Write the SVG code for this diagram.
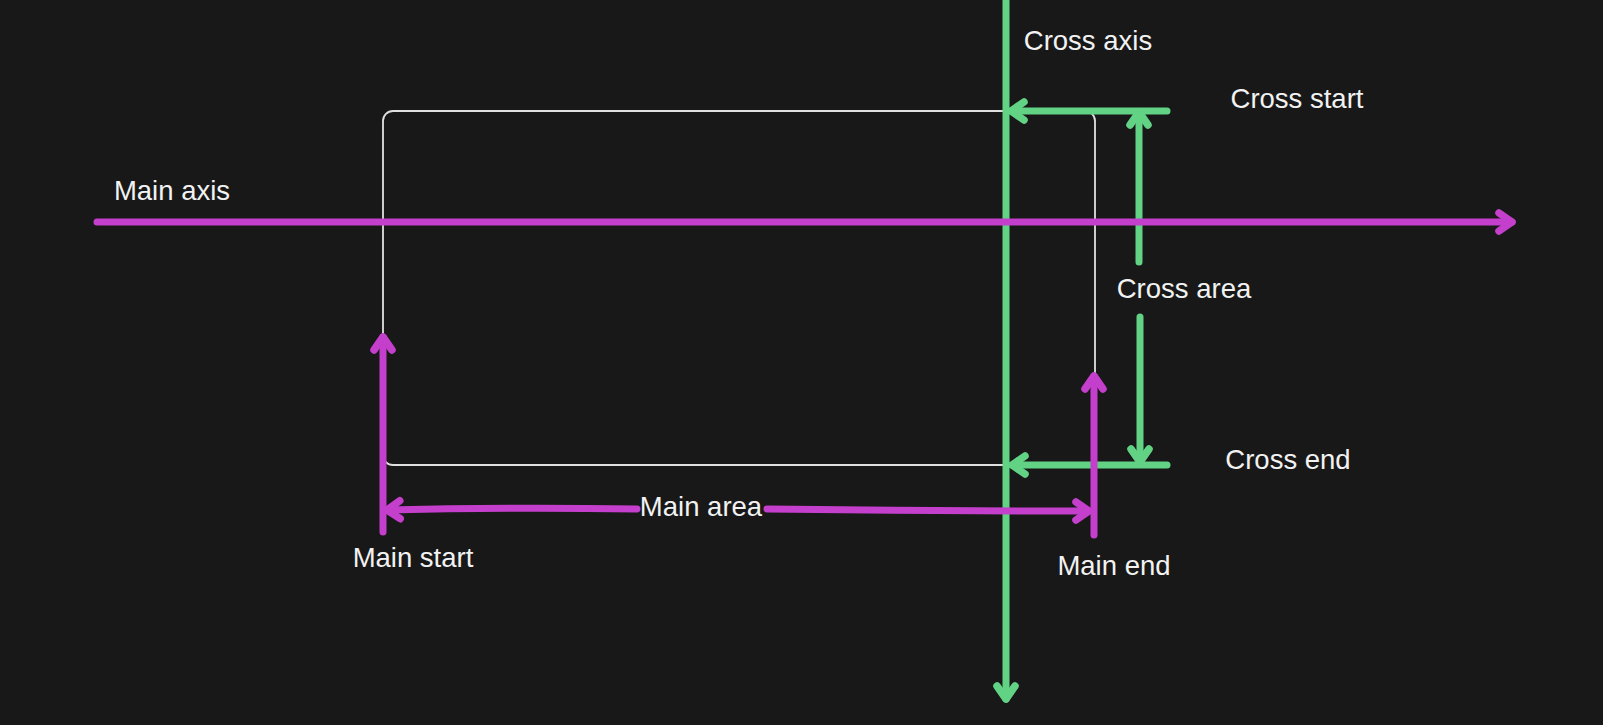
<svg xmlns="http://www.w3.org/2000/svg" width="1603" height="725" viewBox="0 0 1603 725">
<style>
.bg{fill:#181818}
.box{fill:none;stroke:#e0e0e0;stroke-width:1.8}
.p{fill:none;stroke:#c43fcc;stroke-width:7;stroke-linecap:round;stroke-linejoin:round}
.g{fill:none;stroke:#62d384;stroke-width:7;stroke-linecap:round;stroke-linejoin:round}
.t{font-family:"Liberation Sans",Arial,sans-serif;font-size:27.5px;fill:#f2f2f2;text-anchor:middle}
</style>
<defs>
<marker id="ahp" markerUnits="userSpaceOnUse" orient="auto" overflow="visible" markerWidth="1" markerHeight="1" refX="0" refY="0">
<path d="M-13,-9 L0,0 L-13,9" fill="none" stroke="#c43fcc" stroke-width="7.5" stroke-linecap="round" stroke-linejoin="round"/>
</marker>
<marker id="ahg" markerUnits="userSpaceOnUse" orient="auto" overflow="visible" markerWidth="1" markerHeight="1" refX="0" refY="0">
<path d="M-13,-9 L0,0 L-13,9" fill="none" stroke="#62d384" stroke-width="7.5" stroke-linecap="round" stroke-linejoin="round"/>
</marker>
</defs>
<rect class="bg" x="0" y="0" width="1603" height="725"/>
<g id="container">
<rect class="box" x="383" y="111" width="712" height="354" rx="10"/>
</g>
<g id="connectors">
<path class="g" d="M1006,-5 L1006,699" marker-end="url(#ahg)"/>
<path class="g" d="M1167,111 L1011,111" marker-end="url(#ahg)"/>
<path class="g" d="M1167,465 L1012,465" marker-end="url(#ahg)"/>
<path class="g" d="M1139,262 L1139,112" marker-end="url(#ahg)"/>
<path class="g" d="M1140,317 L1140,462" marker-end="url(#ahg)"/>
<path class="p" d="M97,222 L1512,222" marker-end="url(#ahp)"/>
<path class="p" d="M383,532 L383,337" marker-end="url(#ahp)"/>
<path class="p" d="M1094,535 L1094,376" marker-end="url(#ahp)"/>
<path class="p" d="M637,509 Q510,507 387,510" marker-end="url(#ahp)"/>
<path class="p" d="M767,509 Q930,511 1089,511" marker-end="url(#ahp)"/>
</g>
<g id="label-cross-axis"><text class="t" x="1088" y="50">Cross axis</text></g>
<g id="label-cross-start"><text class="t" x="1297" y="108">Cross start</text></g>
<g id="label-cross-area"><text class="t" x="1184" y="298">Cross area</text></g>
<g id="label-cross-end"><text class="t" x="1288" y="469">Cross end</text></g>
<g id="label-main-axis"><text class="t" x="172" y="200">Main axis</text></g>
<g id="label-main-area"><text class="t" x="701" y="516">Main area</text></g>
<g id="label-main-start"><text class="t" x="413" y="567">Main start</text></g>
<g id="label-main-end"><text class="t" x="1114" y="575">Main end</text></g>
</svg>
